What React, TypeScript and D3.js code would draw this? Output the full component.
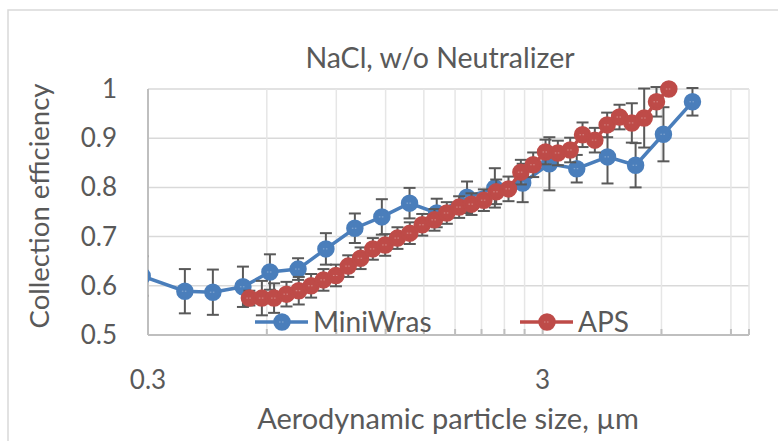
import React from "react";
import * as d3 from "d3";

const titleText = "NaCl, w/o Neutralizer";
const xTitle = "Aerodynamic particle size, µm";
const yTitle = "Collection efficiency";

const xTickValues = [0.3, 3];
const xMinorValues = [0.6, 0.9, 1.2, 1.5, 1.8, 2.1, 2.4, 2.7, 6, 9, 10];
const yTickValues = [0.5, 0.6, 0.7, 0.8, 0.9, 1];

const miniWrasSize = [0.29, 0.372, 0.438, 0.522, 0.611, 0.72, 0.847, 1.003, 1.174, 1.38, 1.617, 1.93, 2.27, 2.67, 3.12, 3.66, 4.38, 5.16, 6.07, 7.19];
const miniWrasEff = [0.62, 0.589, 0.587, 0.598, 0.628, 0.634, 0.675, 0.717, 0.74, 0.768, 0.748, 0.78, 0.799, 0.809, 0.848, 0.838, 0.862, 0.845, 0.908, 0.974];
const miniWrasErr = [0.04, 0.045, 0.046, 0.041, 0.036, 0.022, 0.032, 0.03, 0.036, 0.031, 0.029, 0.032, 0.04, 0.039, 0.054, 0.028, 0.054, 0.045, 0.055, 0.028];

const apsSize = [0.542, 0.583, 0.626, 0.673, 0.723, 0.777, 0.835, 0.898, 0.965, 1.037, 1.114, 1.197, 1.286, 1.382, 1.486, 1.596, 1.715, 1.843, 1.981, 2.129, 2.288, 2.458, 2.642, 2.839, 3.051, 3.278, 3.523, 3.786, 4.068, 4.371, 4.698, 5.048, 5.425, 5.829, 6.264];
const apsEff = [0.575, 0.575, 0.575, 0.583, 0.59, 0.6, 0.612, 0.621, 0.64, 0.656, 0.675, 0.683, 0.697, 0.707, 0.724, 0.734, 0.748, 0.76, 0.766, 0.774, 0.791, 0.797, 0.831, 0.846, 0.872, 0.87, 0.876, 0.907, 0.896, 0.927, 0.943, 0.931, 0.941, 0.974, 1.0];
const apsErr = [0.015, 0.035, 0.03, 0.025, 0.028, 0.024, 0.022, 0.022, 0.022, 0.022, 0.022, 0.022, 0.022, 0.022, 0.022, 0.022, 0.022, 0.022, 0.022, 0.022, 0.025, 0.025, 0.025, 0.025, 0.025, 0.025, 0.025, 0.025, 0.025, 0.025, 0.025, 0.04, 0.06, 0.03, 0.01];

const seriesNames = ["MiniWras", "APS"];
const seriesColors = ["#4a7ebb", "#be4b48"];

const W = 778;
const H = 441;
const L = 148, R = 749, T = 89, B = 335;
const FONT = "Lato, 'Open Sans', sans-serif";
const TXT = "#595959";

export default function App() {
  const x = d3.scaleLog().domain([0.3, 10]).range([L, R]);
  const y = d3.scaleLinear().domain([0.5, 1]).range([B, T]);

  const series = [
    { name: seriesNames[0], color: seriesColors[0], xs: miniWrasSize, ys: miniWrasEff, es: miniWrasErr },
    { name: seriesNames[1], color: seriesColors[1], xs: apsSize, ys: apsEff, es: apsErr },
  ];

  const line = d3
    .line<[number, number]>()
    .x((d) => x(d[0]))
    .y((d) => y(d[1]));

  const marker = (cx: number, cy: number, color: string, key: string) => (
    <g key={key}>
      <circle cx={cx} cy={cy} r={7.5} fill={color} stroke={color} strokeWidth={2.5} />
      <line x1={cx - 3} x2={cx + 3} y1={cy} y2={cy} stroke="#ffffff" strokeOpacity={0.35} strokeWidth={1} strokeDasharray="1.5 1.5" />
    </g>
  );

  return (
    <svg width={W} height={H} style={{ position: "absolute", left: 0, top: 0, background: "#fff" }} fontFamily={FONT}>
      <defs>
        <clipPath id="plotclip">
          <rect x={L} y={T - 20} width={R - L} height={B - T + 40} />
        </clipPath>
      </defs>
      <rect x={0} y={0} width={W} height={H} fill="#fff" />
      <rect x={8} y={10} width={W + 20} height={H + 20} fill="none" stroke="#d9d9d9" strokeWidth={1.5} />

      {/* gridlines */}
      {yTickValues.map((v) => (
        <line key={"gy" + v} x1={L} x2={R} y1={y(v)} y2={y(v)} stroke="#d9d9d9" strokeWidth={1.5} />
      ))}
      {[...xTickValues, ...xMinorValues].map((v) => (
        <line key={"gx" + v} x1={x(v)} x2={x(v)} y1={T} y2={B} stroke="#e6e6e6" strokeWidth={1.5} />
      ))}
      {/* axes */}
      <line x1={L} x2={L} y1={T} y2={B} stroke="#bfbfbf" strokeWidth={2} />
      <line x1={L} x2={R} y1={B} y2={B} stroke="#bfbfbf" strokeWidth={2} />
      {[...xTickValues, ...xMinorValues].map((v) => (
        <line key={"tx" + v} x1={x(v)} x2={x(v)} y1={B - 6} y2={B} stroke="#bfbfbf" strokeWidth={2} />
      ))}

      {/* tick labels */}
      {yTickValues.map((v) => (
        <text key={"ly" + v} x={117} y={y(v) + 9} textAnchor="end" fontSize={26} fill={TXT}>
          {d3.format("")(v)}
        </text>
      ))}
      {xTickValues.map((v) => (
        <text key={"lx" + v} x={x(v)} y={389} textAnchor="middle" fontSize={26} fill={TXT}>
          {v}
        </text>
      ))}

      {/* titles */}
      <text x={440} y={68} textAnchor="middle" fontSize={28.5} fill={TXT}>{titleText}</text>
      <text x={448} y={429} textAnchor="middle" fontSize={29} fill={TXT}>{xTitle}</text>
      <text transform={`translate(49, 206) rotate(-90)`} textAnchor="middle" fontSize={27.5} fill={TXT}>{yTitle}</text>

      {/* series */}
      <g clipPath="url(#plotclip)">
        {series.map((s) => {
          const pts: [number, number][] = s.xs.map((d, i) => [d, s.ys[i]]);
          return (
            <g key={s.name}>
              <path d={line(pts) || ""} fill="none" stroke={s.color} strokeWidth={3.5} />
              {pts.map((p, i) => {
                const cx = x(p[0]);
                const y1 = y(p[1] + s.es[i]);
                const y2 = y(p[1] - s.es[i]);
                return (
                  <g key={"e" + i} stroke="#595959" strokeWidth={2}>
                    <line x1={cx} x2={cx} y1={y1} y2={y2} />
                    <line x1={cx - 6} x2={cx + 6} y1={y1} y2={y1} />
                    <line x1={cx - 6} x2={cx + 6} y1={y2} y2={y2} />
                  </g>
                );
              })}
              {pts.map((p, i) => marker(x(p[0]), y(p[1]), s.color, s.name + i))}
            </g>
          );
        })}
      </g>

      {/* legend */}
      <g>
        <line x1={255} x2={308} y1={322} y2={322} stroke={seriesColors[0]} strokeWidth={3.5} />
        {marker(282, 322, seriesColors[0], "lg0")}
        <text x={313} y={332} fontSize={28} fill={TXT}>{seriesNames[0]}</text>
        <line x1={520} x2={573} y1={322} y2={322} stroke={seriesColors[1]} strokeWidth={3.5} />
        {marker(547, 322, seriesColors[1], "lg1")}
        <text x={578} y={332} fontSize={28} fill={TXT}>{seriesNames[1]}</text>
      </g>
    </svg>
  );
}
